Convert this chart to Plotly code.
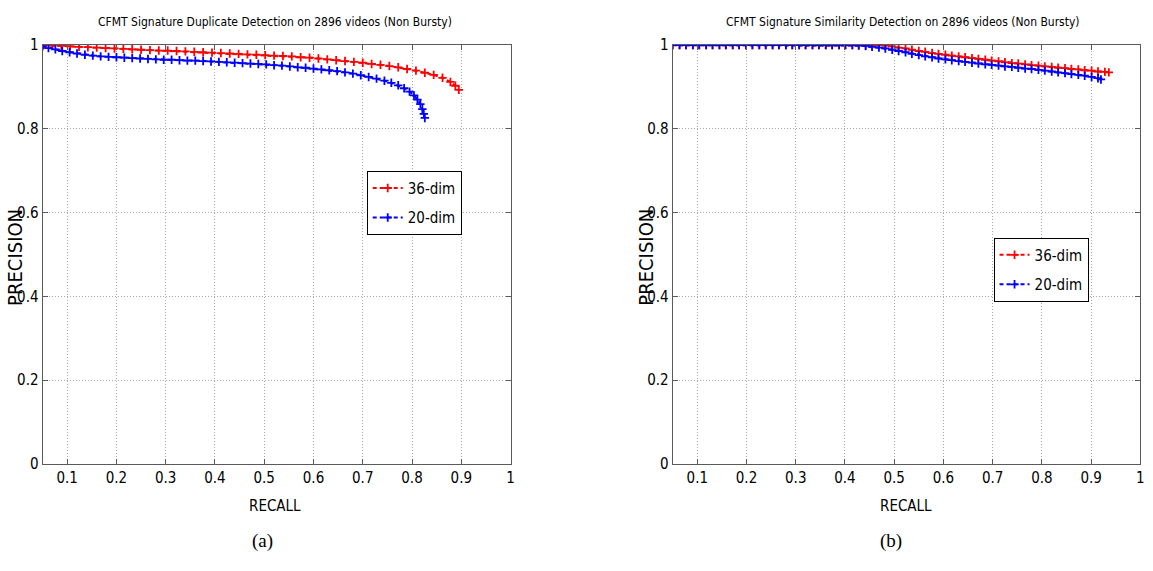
import plotly.graph_objects as go

# ---------------- data ----------------
dup_36_recall = [0.052, 0.070, 0.088, 0.106, 0.124, 0.142, 0.160, 0.178, 0.196, 0.214,
                 0.232, 0.250, 0.268, 0.286, 0.304, 0.322, 0.340, 0.358, 0.376, 0.394,
                 0.412, 0.430, 0.448, 0.466, 0.484, 0.502, 0.520, 0.538, 0.556, 0.574,
                 0.592, 0.610, 0.628, 0.646, 0.664, 0.682, 0.700, 0.718, 0.736, 0.754,
                 0.772, 0.790, 0.808, 0.826, 0.844, 0.862, 0.878, 0.888, 0.895]
dup_36_precision = [1.000, 0.999, 0.998, 0.997, 0.996, 0.995, 0.994, 0.993, 0.992, 0.991,
                    0.990, 0.989, 0.988, 0.987, 0.987, 0.986, 0.985, 0.984, 0.983, 0.982,
                    0.981, 0.980, 0.979, 0.978, 0.977, 0.976, 0.975, 0.974, 0.973, 0.971,
                    0.970, 0.968, 0.966, 0.964, 0.962, 0.960, 0.958, 0.955, 0.953, 0.950,
                    0.947, 0.943, 0.939, 0.934, 0.929, 0.922, 0.912, 0.903, 0.893]

dup_20_recall = [0.050, 0.062, 0.076, 0.090, 0.105, 0.120, 0.136, 0.152, 0.168, 0.184,
                 0.200, 0.216, 0.232, 0.248, 0.264, 0.280, 0.296, 0.312, 0.328, 0.344,
                 0.360, 0.376, 0.392, 0.408, 0.424, 0.440, 0.456, 0.472, 0.488, 0.504,
                 0.520, 0.536, 0.552, 0.568, 0.584, 0.600, 0.616, 0.632, 0.648, 0.664,
                 0.680, 0.696, 0.712, 0.728, 0.744, 0.758, 0.772, 0.784, 0.795, 0.804,
                 0.811, 0.817, 0.821, 0.824, 0.826]
dup_20_precision = [0.997, 0.993, 0.990, 0.986, 0.983, 0.980, 0.977, 0.975, 0.973, 0.972,
                    0.971, 0.970, 0.969, 0.968, 0.967, 0.966, 0.965, 0.965, 0.964, 0.963,
                    0.963, 0.962, 0.961, 0.960, 0.959, 0.958, 0.957, 0.956, 0.955, 0.954,
                    0.952, 0.951, 0.949, 0.947, 0.946, 0.944, 0.942, 0.940, 0.938, 0.935,
                    0.932, 0.928, 0.924, 0.920, 0.915, 0.910, 0.904, 0.897, 0.889, 0.880,
                    0.870, 0.859, 0.847, 0.836, 0.826]

sim_36_recall = [0.050, 0.064, 0.077, 0.091, 0.104, 0.118, 0.131, 0.145, 0.158, 0.172,
                 0.185, 0.199, 0.212, 0.226, 0.239, 0.253, 0.266, 0.280, 0.293, 0.307,
                 0.320, 0.334, 0.347, 0.361, 0.374, 0.388, 0.401, 0.415, 0.428, 0.442,
                 0.455, 0.469, 0.482, 0.496, 0.509, 0.523, 0.536, 0.550, 0.563, 0.577,
                 0.590, 0.604, 0.617, 0.631, 0.644, 0.658, 0.671, 0.685, 0.698, 0.712,
                 0.725, 0.739, 0.752, 0.766, 0.779, 0.793, 0.806, 0.820, 0.833, 0.847,
                 0.860, 0.874, 0.887, 0.901, 0.914, 0.928, 0.936]
sim_36_precision = [1.000, 1.000, 1.000, 1.000, 1.000, 1.000, 1.000, 1.000, 1.000, 1.000,
                    1.000, 1.000, 1.000, 1.000, 1.000, 1.000, 1.000, 1.000, 1.000, 1.000,
                    1.000, 1.000, 1.000, 1.000, 1.000, 1.000, 1.000, 1.000, 1.000, 1.000,
                    1.000, 1.000, 0.999, 0.997, 0.994, 0.992, 0.989, 0.986, 0.984, 0.981,
                    0.979, 0.977, 0.975, 0.973, 0.971, 0.969, 0.967, 0.965, 0.963, 0.961,
                    0.959, 0.957, 0.956, 0.954, 0.952, 0.951, 0.949, 0.948, 0.946, 0.945,
                    0.943, 0.942, 0.940, 0.939, 0.937, 0.936, 0.935]

sim_20_recall = [0.050, 0.064, 0.077, 0.091, 0.104, 0.118, 0.131, 0.145, 0.158, 0.172,
                 0.185, 0.199, 0.212, 0.226, 0.239, 0.253, 0.266, 0.280, 0.293, 0.307,
                 0.320, 0.334, 0.347, 0.361, 0.374, 0.388, 0.401, 0.415, 0.428, 0.442,
                 0.455, 0.469, 0.482, 0.496, 0.509, 0.523, 0.536, 0.550, 0.563, 0.577,
                 0.590, 0.604, 0.617, 0.631, 0.644, 0.658, 0.671, 0.685, 0.698, 0.712,
                 0.725, 0.739, 0.752, 0.766, 0.779, 0.793, 0.806, 0.820, 0.833, 0.847,
                 0.860, 0.874, 0.887, 0.901, 0.914, 0.920]
sim_20_precision = [1.000, 1.000, 1.000, 1.000, 1.000, 1.000, 1.000, 1.000, 1.000, 1.000,
                    1.000, 1.000, 1.000, 1.000, 1.000, 1.000, 1.000, 1.000, 1.000, 1.000,
                    1.000, 1.000, 1.000, 1.000, 1.000, 1.000, 1.000, 1.000, 0.999, 0.998,
                    0.996, 0.994, 0.992, 0.989, 0.986, 0.983, 0.979, 0.976, 0.973, 0.971,
                    0.968, 0.966, 0.964, 0.962, 0.960, 0.958, 0.956, 0.954, 0.953, 0.951,
                    0.949, 0.948, 0.946, 0.944, 0.943, 0.941, 0.939, 0.937, 0.935, 0.933,
                    0.931, 0.929, 0.927, 0.924, 0.921, 0.918]

x_ticks = [0.1, 0.2, 0.3, 0.4, 0.5, 0.6, 0.7, 0.8, 0.9, 1]
x_tick_text = ["0.1", "0.2", "0.3", "0.4", "0.5", "0.6", "0.7", "0.8", "0.9", "1"]
y_ticks = [0, 0.2, 0.4, 0.6, 0.8, 1]
y_tick_text = ["0", "0.2", "0.4", "0.6", "0.8", "1"]

titles = ["CFMT Signature Duplicate Detection on 2896 videos (Non Bursty)",
          "CFMT Signature Similarity Detection on 2896 videos (Non Bursty)"]
series_names = ["36-dim", "20-dim"]
captions = ["(a)", "(b)"]

# ---------------- styling ----------------
W, H = 1153, 571
FONT = "DejaVu Sans Condensed, Liberation Sans Narrow, Liberation Sans, Arial, sans-serif"
RED, BLUE = "#ff0000", "#0000ff"


def px_x(p):
    return p / W


def px_y(p):
    return 1 - p / H


fig = go.Figure()


def add_series(x, y, name, color, xa, ya, legend, group):
    fig.add_trace(go.Scatter(
        x=x, y=y, name=name, mode="lines+markers",
        xaxis=xa, yaxis=ya, legend=legend, legendgroup=group,
        line=dict(color=color, width=2, dash="4px,3px"),
        marker=dict(symbol="cross-thin", size=6, color=color,
                    line=dict(color=color, width=1.8)),
    ))


add_series(dup_36_recall, dup_36_precision, series_names[0], RED, "x", "y", "legend", "a36")
add_series(dup_20_recall, dup_20_precision, series_names[1], BLUE, "x", "y", "legend", "a20")
add_series(sim_36_recall, sim_36_precision, series_names[0], RED, "x2", "y2", "legend2", "b36")
add_series(sim_20_recall, sim_20_precision, series_names[1], BLUE, "x2", "y2", "legend2", "b20")

axis_common = dict(
    showline=True, linecolor="#5a5a5a", linewidth=1, mirror="ticks",
    ticks="inside", ticklen=5, tickcolor="#5a5a5a",
    showgrid=True, gridcolor="#a8a8a8", griddash="1px,2px", gridwidth=1,
    zeroline=False, tickfont=dict(family=FONT, size=15, color="#000"),
)

left_dom = [px_x(42.7), px_x(512.3)]
right_dom = [px_x(675), px_x(1144.3)]
y_dom = [px_y(469.6), px_y(37.3)]

legend_common = dict(xanchor="left", yanchor="top",
                     bgcolor="white", bordercolor="#000", borderwidth=1,
                     font=dict(family=FONT, size=15, color="#000"),
                     itemwidth=30, tracegroupgap=7, traceorder="grouped")

fig.update_layout(
    width=W, height=H, margin=dict(l=0, r=0, t=0, b=0),
    plot_bgcolor="white", paper_bgcolor="white",
    xaxis=dict(domain=left_dom, range=[0.05, 1], tickvals=x_ticks, ticktext=x_tick_text,
               anchor="y", **axis_common),
    yaxis=dict(domain=y_dom, range=[0, 1], tickvals=y_ticks, ticktext=y_tick_text,
               anchor="x", **axis_common),
    xaxis2=dict(domain=right_dom, range=[0.05, 1], tickvals=x_ticks, ticktext=x_tick_text,
                anchor="y2", **axis_common),
    yaxis2=dict(domain=y_dom, range=[0, 1], tickvals=y_ticks, ticktext=y_tick_text,
                anchor="x2", **axis_common),
    legend=dict(x=px_x(368), y=px_y(167), **legend_common),
    legend2=dict(x=px_x(997), y=px_y(236), **legend_common),
    showlegend=True,
)

annotations = []
# titles
for cx, t in zip([276, 906], titles):
    annotations.append(dict(text=t, x=px_x(cx), y=px_y(13), xref="paper", yref="paper",
                            xanchor="center", yanchor="middle", showarrow=False,
                            font=dict(family=FONT, size=12, color="#000")))
# x axis titles
for cx in [276, 909]:
    annotations.append(dict(text="RECALL", x=px_x(cx), y=px_y(513), xref="paper", yref="paper",
                            xanchor="center", yanchor="middle", showarrow=False,
                            font=dict(family=FONT, size=15, color="#000")))
# y axis titles
for cx in [15, 648]:
    annotations.append(dict(text="PRECISION", x=px_x(cx), y=px_y(256), xref="paper", yref="paper",
                            xanchor="center", yanchor="middle", showarrow=False, textangle=-90,
                            font=dict(family=FONT, size=20, color="#000")))
# captions
for cx, c in zip([263, 894], captions):
    annotations.append(dict(text=c, x=px_x(cx), y=px_y(549), xref="paper", yref="paper",
                            xanchor="center", yanchor="middle", showarrow=False,
                            font=dict(family="Liberation Serif, DejaVu Serif, serif", size=19,
                                      color="#000")))
fig.update_layout(annotations=annotations)

fig.write_html("out.html", config={"displayModeBar": False})

# remove default page margins so the 1153x571 figure fills the window exactly
with open("out.html", "r", encoding="utf-8") as f:
    html = f.read()
html = html.replace("<head>", "<head><style>html,body{margin:0;padding:0;overflow:hidden;}</style>", 1)
with open("out.html", "w", encoding="utf-8") as f:
    f.write(html)
